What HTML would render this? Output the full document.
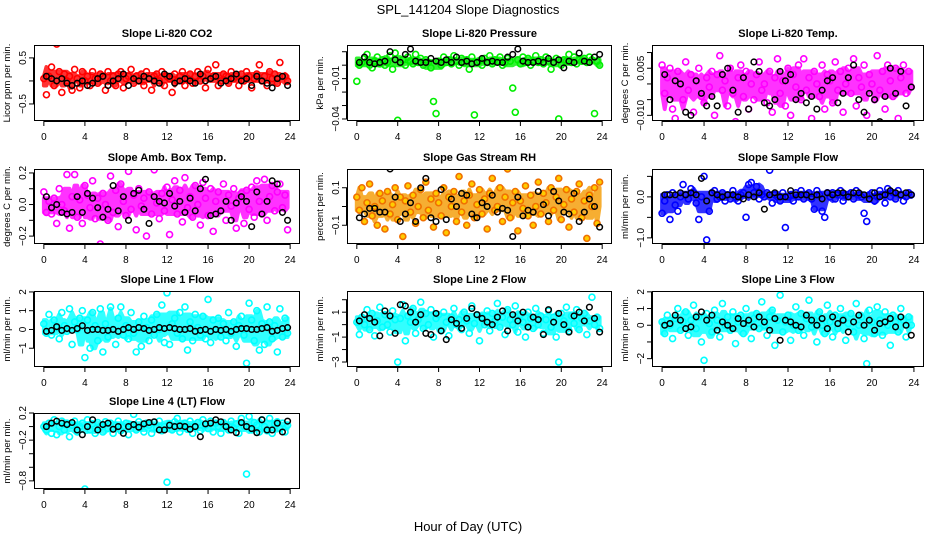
<!DOCTYPE html>
<html><head><meta charset="utf-8"><style>
html,body{margin:0;padding:0;background:#fff;}
svg{display:block;font-family:"Liberation Sans",Arial,sans-serif;}
</style></head><body>
<svg id="chart" width="936" height="540" viewBox="0 0 936 540">
<text x="468" y="14" text-anchor="middle" font-size="13">SPL_141204  Slope Diagnostics</text>
<text x="468" y="531" text-anchor="middle" font-size="13">Hour of Day (UTC)</text>
</svg>
<script>
const xTicks = [0,4,8,12,16,20,24];
const co2Color = [0.05,-0.3,0.1,0.3,-0.1,0.8,0.2,-0.25,0.15,0.0,0.1,-0.2,0.25,0.05,-0.15,0.2,0.0,0.1,-0.1,0.2,0.05,-0.05,0.15,0.1,-0.2,0.2,0.0,0.1,-0.1,0.15,0.2,-0.15,0.05,0.1,0.25,-0.05,0.1,0.0,0.15,-0.1,0.2,0.05,-0.2,0.1,0.15,0.0,0.2,-0.1,0.1,0.05,-0.25,0.15,0.0,0.1,0.2,-0.1,0.05,0.15,-0.05,0.1,0.2,0.0,0.1,-0.15,0.25,0.05,0.1,0.35,-0.1,0.0,0.15,0.1,-0.05,0.2,0.05,0.1,-0.1,0.15,0.0,0.2,0.1,-0.15,0.05,0.15,0.35,0.0,0.1,-0.1,0.2,0.05,0.15,-0.05,0.4,-0.95,0.1,0.0];
const co2Black = [0.1,0.05,0.0,0.05,-0.05,-0.1,-0.05,0.0,-0.1,-0.05,0.05,0.1,-0.1,0.0,0.05,0.15,-0.1,0.05,0.0,0.1,0.05,0.0,-0.05,0.15,0.1,-0.05,0.0,0.05,0.0,-0.05,0.15,0.0,0.05,0.1,-0.05,0.0,0.05,0.15,0.0,0.05,-0.1,0.1,0.0,-0.05,-0.15,0.05,0.1,-0.1];
const presColor = [-0.012,0.0,0.002,0.005,0.008,0.0,-0.002,0.003,0.006,0.001,0.004,0.0,0.002,0.007,-0.003,0.009,-0.041,0.002,0.004,0.0,0.006,0.003,0.001,0.008,0.002,0.005,0.0,0.004,0.002,-0.002,-0.027,-0.036,0.003,0.0,0.006,0.002,0.004,0.001,0.007,0.003,0.0,0.005,0.002,0.004,-0.003,0.006,-0.037,0.002,0.003,0.0,0.005,0.002,0.007,0.001,0.004,0.003,0.006,0.0,0.002,0.005,0.003,-0.017,-0.035,0.004,0.001,0.006,0.002,0.005,0.0,0.003,0.007,0.002,0.004,0.001,0.006,0.003,-0.003,0.002,0.005,-0.04,0.0,0.004,0.003,0.008,0.002,0.006,0.001,0.004,0.003,0.005,0.002,0.006,0.004,-0.036,0.003,0.0];
const presBlack = [0.002,0.006,0.002,0.001,0.002,0.003,0.01,0.004,0.002,0.008,0.012,0.003,0.002,0.002,0.005,0.003,0.002,0.004,0.002,0.006,0.002,0.003,0.001,0.002,0.005,0.002,0.003,0.002,0.002,0.006,0.008,0.012,0.003,0.002,0.002,0.003,0.002,0.005,0.002,0.004,-0.002,0.003,0.002,0.009,0.003,0.002,0.006,0.008];
const tempColor = [0.006,-0.003,0.002,0.005,-0.008,-0.011,0.004,0.0,-0.005,0.007,-0.002,0.003,-0.009,0.001,0.005,-0.004,-0.006,0.002,-0.001,0.004,-0.010,0.003,0.009,-0.002,0.001,-0.007,0.005,-0.003,-0.012,0.002,0.006,-0.004,0.004,-0.008,0.0,-0.005,0.003,0.007,-0.002,0.0,-0.006,0.004,-0.009,0.002,0.008,-0.003,0.001,-0.007,0.005,-0.010,0.003,-0.001,0.006,-0.005,0.008,-0.002,0.002,-0.011,0.004,0.0,-0.004,0.006,-0.008,0.003,0.001,-0.006,0.007,-0.002,0.004,-0.009,0.0,0.005,-0.003,0.008,-0.007,0.002,-0.001,0.006,-0.010,0.003,0.0,-0.005,0.009,-0.002,0.004,-0.008,0.006,0.001,-0.004,0.005,-0.011,0.002,0.006,-0.003,0.004,-0.001];
const tempBlack = [0.003,-0.005,0.001,0.0,-0.009,-0.01,0.001,-0.003,-0.007,-0.004,-0.007,0.003,0.005,-0.002,-0.009,0.002,-0.008,0.007,0.004,-0.006,-0.007,-0.005,0.004,0.001,0.003,-0.005,-0.003,-0.006,-0.004,-0.008,-0.002,0.001,0.002,-0.006,-0.003,0.002,0.006,-0.005,-0.009,-0.003,-0.005,-0.012,-0.004,0.005,-0.003,0.004,-0.007,-0.001];
const ambColor = [0.08,-0.05,0.02,-0.06,0.04,-0.12,0.1,0.0,-0.04,0.19,-0.15,0.05,0.19,-0.08,0.03,-0.12,0.12,0.06,-0.02,0.15,-0.09,0.04,-0.25,0.07,0.0,-0.1,0.18,-0.05,0.09,-0.14,0.13,0.02,-0.07,0.21,-0.03,0.06,-0.16,0.1,-0.01,0.04,-0.2,0.08,-0.06,0.22,0.01,-0.09,0.07,-0.04,0.11,-0.19,0.03,0.15,-0.06,0.09,-0.11,0.17,-0.02,0.05,-0.08,0.12,0.0,-0.13,0.14,0.04,-0.07,0.1,-0.17,0.02,0.08,-0.04,0.13,-0.1,0.06,-0.01,0.1,-0.15,0.04,0.07,-0.12,0.09,-0.03,0.11,-0.08,0.15,0.02,-0.06,0.16,-0.1,0.05,0.12,-0.04,0.08,0.13,-0.02,0.06,-0.16];
const ambBlack = [0.05,-0.02,0.0,-0.05,-0.06,-0.05,0.05,-0.05,0.07,0.04,-0.02,-0.08,-0.03,0.12,-0.04,0.05,-0.1,0.07,0.09,-0.03,-0.12,0.05,0.02,0.01,0.07,-0.01,0.02,-0.05,0.04,-0.04,0.1,0.16,-0.07,-0.06,-0.04,0.02,-0.1,0.01,0.05,0.02,-0.14,0.08,-0.06,0.02,0.15,0.13,-0.05,-0.1];
const rhColor = [0.05,-0.02,0.1,-0.08,0.02,0.12,-0.05,0.0,-0.1,0.07,0.03,-0.12,0.08,-0.04,0.01,0.1,-0.07,0.05,-0.16,0.03,0.11,-0.03,0.06,-0.09,0.0,0.09,-0.06,0.13,-0.02,0.04,-0.11,0.07,0.02,-0.05,0.1,-0.14,0.05,0.0,0.08,-0.08,0.16,-0.03,0.03,-0.1,0.06,0.12,-0.06,0.01,0.09,-0.04,0.04,-0.12,0.07,0.15,-0.02,0.0,0.1,-0.08,0.05,0.2,-0.06,0.02,0.08,-0.13,0.03,-0.01,0.11,-0.05,0.06,-0.1,0.0,0.13,-0.04,0.07,0.02,-0.08,0.1,-0.02,0.05,0.15,-0.07,0.01,0.09,-0.11,0.04,-0.03,0.08,0.12,-0.06,0.03,-0.17,0.06,0.0,0.1,-0.09,0.13];
const rhBlack = [-0.06,-0.04,-0.01,-0.01,-0.03,-0.03,0.2,0.05,-0.08,-0.04,0.02,-0.08,0.1,0.15,-0.06,-0.08,0.09,-0.07,0.04,0.0,0.07,0.06,-0.04,-0.06,0.02,0.0,0.06,-0.03,-0.01,-0.02,-0.16,0.05,-0.05,-0.02,-0.03,0.08,0.01,-0.05,0.08,0.03,-0.03,-0.04,0.07,-0.08,-0.03,0.04,0.0,-0.11];
const flowColor = [-0.4,-0.1,0.05,-0.55,0.1,-0.2,-0.35,0.0,0.3,0.05,-0.05,0.2,0.1,-0.15,-0.55,0.0,0.5,-1.05,-0.35,0.1,0.15,-0.05,0.0,0.1,-0.1,0.05,-0.05,0.15,0.0,-0.1,0.05,0.1,-0.5,0.3,0.35,0.1,0.25,-0.05,0.05,0.0,0.1,0.65,-0.15,0.05,0.0,-0.1,0.1,-0.75,0.0,0.05,-0.1,0.1,0.0,0.15,-0.05,0.05,0.1,-0.05,-0.3,0.15,0.05,-0.35,-0.5,0.1,0.0,0.1,-0.05,0.05,0.15,-0.1,0.05,0.0,0.1,-0.05,0.15,0.05,0.0,-0.4,-0.6,0.05,0.1,-0.1,0.0,0.15,0.05,-0.15,0.2,0.0,0.1,-0.05,0.15,0.05,-0.1,0.0,0.1,0.05];
const flowBlack = [0.05,0.05,0.05,0.1,0.05,0.1,0.05,0.45,-0.1,0.1,0.05,0.0,0.05,0.05,0.0,-0.05,0.05,0.0,0.1,-0.3,0.05,0.1,0.0,0.0,0.15,0.05,0.05,0.05,0.0,0.05,-0.05,0.1,0.05,0.1,0.1,0.0,0.1,0.1,0.05,-0.05,0.1,0.0,0.05,0.15,0.1,0.05,0.1,0.05];
const line1Color = [0.3,-0.2,0.8,-0.3,0.5,0.1,-0.5,0.9,0.2,-0.1,1.1,-0.8,0.4,0.0,0.6,1.0,-1.5,0.5,-1.0,0.9,0.2,-0.6,1.1,-1.2,0.3,-0.4,1.2,0.0,-0.8,0.6,1.2,-0.3,0.2,-0.5,0.9,-0.2,-1.2,0.4,-0.9,0.7,0.1,-0.6,0.5,-0.3,0.8,0.0,1.3,-0.7,1.95,-0.8,0.3,0.6,-0.2,0.9,-0.5,1.2,-1.1,0.4,-0.6,0.8,0.1,-0.3,0.7,-0.5,1.6,-0.7,0.5,0.0,0.6,-0.4,0.3,-0.6,0.9,-0.2,0.4,-0.9,0.2,0.7,-0.3,-1.8,1.4,0.5,-0.6,1.0,-1.1,0.3,-0.8,1.2,0.4,-0.5,0.2,-1.2,1.1,-0.4,0.6,-0.2];
const line1Black = [-0.1,-0.05,0.15,-0.05,0.05,-0.05,0.05,0.2,-0.05,0.0,0.0,-0.05,-0.05,0.0,-0.1,0.0,0.1,0.0,0.1,0.05,-0.05,0.0,0.1,0.05,0.1,0.05,0.0,0.0,0.05,-0.1,-0.05,0.0,-0.1,0.0,-0.05,0.0,-0.1,0.0,0.05,0.05,0.0,0.0,0.05,0.1,-0.1,-0.05,0.05,0.1];
const line2Color = [0.2,-0.8,0.6,0.0,1.2,-0.4,0.9,-0.9,0.3,1.4,-0.2,0.8,0.0,-0.6,1.1,0.4,-3.0,0.5,1.6,-1.3,0.7,0.2,1.3,-0.7,0.4,1.8,-0.3,0.9,0.0,1.2,-1.0,0.5,0.8,-0.5,1.0,0.2,-0.9,0.6,1.3,0.0,0.4,-0.4,1.0,0.3,-0.7,1.5,0.1,0.8,-1.3,0.6,0.0,1.1,-0.5,0.9,0.3,1.7,-0.2,0.6,-0.8,1.2,0.4,0.0,1.5,-0.6,0.8,0.2,-1.0,1.0,0.5,-0.3,1.3,0.0,0.7,-0.7,0.4,1.1,-0.2,0.6,-1.0,-3.0,0.9,0.3,1.4,-0.5,0.7,0.1,1.2,-0.4,0.5,0.9,-0.8,0.3,2.2,0.0,0.6,-0.3];
const line2Black = [0.3,0.8,0.5,0.2,-0.9,1.1,0.7,-0.7,1.6,1.5,1.0,0.2,0.8,-0.7,-0.8,0.9,-0.5,-1.2,0.4,0.1,-0.3,0.5,1.3,0.8,0.5,0.2,0.0,0.6,1.1,-0.5,0.8,0.3,1.0,-0.2,0.6,0.4,-0.8,1.2,0.2,0.9,0.0,-0.6,0.7,1.0,0.3,1.4,0.5,-0.6];
const line3Color = [0.2,-0.5,0.6,0.0,-0.8,0.4,1.0,-0.3,0.2,0.8,-0.6,0.3,1.2,-0.2,0.5,-1.0,-2.1,0.7,0.1,-0.4,0.9,0.3,-0.7,1.3,0.0,0.5,-0.3,0.8,-1.1,0.2,0.6,-0.5,1.0,0.1,-0.8,0.4,0.7,-0.2,1.4,0.0,-0.6,0.5,0.9,-1.2,0.3,1.8,-0.4,0.2,0.6,-0.9,0.0,1.1,-0.3,0.7,-0.6,0.4,1.5,-0.1,0.3,-1.0,0.8,0.0,-0.5,1.2,0.2,-0.7,0.6,-0.2,1.0,0.4,-0.9,0.1,0.7,-0.4,1.3,0.0,0.5,-0.8,-2.3,0.9,0.2,-0.5,1.1,0.3,-0.6,0.8,0.0,-1.2,0.6,0.2,-0.4,1.0,0.3,-0.7,0.5,0.0];
const line3Black = [0.0,0.1,0.6,0.3,-0.2,-0.1,0.5,0.8,0.3,0.6,-0.3,0.2,0.0,-0.2,0.4,0.1,0.3,-0.1,0.5,0.2,-0.3,0.4,-0.9,0.3,0.2,0.0,-0.1,0.6,0.3,0.0,0.4,-0.2,0.5,0.1,0.3,-0.4,0.2,0.6,0.0,0.3,-0.3,0.1,0.2,0.4,-0.1,0.5,0.0,-0.6];
const line4Color = [0.0,-0.05,0.05,-0.1,0.1,-0.12,0.0,0.08,-0.05,0.05,-0.15,0.02,0.08,-0.08,0.0,0.05,-0.92,0.1,-0.05,0.04,-0.1,0.06,0.0,-0.08,0.07,-0.03,0.05,-0.1,0.02,0.08,-0.06,0.0,0.05,-0.12,0.03,0.18,-0.05,0.07,0.0,-0.08,0.05,0.02,-0.1,0.06,-0.02,0.08,-0.06,0.0,-0.82,0.04,-0.05,0.07,0.12,-0.08,0.02,0.05,-0.04,0.08,-0.1,0.0,0.06,-0.06,0.1,0.02,-0.03,0.08,-0.08,0.05,0.0,-0.1,0.06,0.02,-0.05,0.08,-0.02,0.04,-0.1,0.12,0.0,-0.7,0.15,-0.05,0.06,0.02,-0.08,0.1,0.0,-0.06,0.12,-0.1,0.04,0.07,-0.03,0.05,-0.08,0.02];
const line4Black = [0.0,0.05,0.08,0.05,0.03,0.06,-0.05,-0.12,0.0,0.1,-0.05,0.03,0.05,-0.04,0.0,-0.1,0.0,0.03,-0.01,0.04,0.06,0.07,-0.05,-0.05,0.02,0.0,0.01,0.0,-0.04,0.0,-0.15,0.04,0.05,0.1,0.07,0.0,-0.05,-0.09,0.06,0.0,-0.03,-0.09,0.1,-0.05,-0.05,0.05,-0.08,0.08];

const NS = "http://www.w3.org/2000/svg";
const svg = document.getElementById('chart');
const cols = [[34,300],[347,612],[652,924]];
const rows = [[45,121],[169,244],[291,367],[413,489]];
const panels = [
 {c:0,r:0,name:'co2',title:'Slope Li-820 CO2',yl:'Licor ppm per min.',dom:[-0.87,0.78],ticks:[-0.5,0,0.5],labs:{'-0.5':'\u22120.5','0.5':'0.5'},col:'#ff0000',fill:'none',cv:co2Color,bv:co2Black},
 {c:1,r:0,name:'pressure',title:'Slope Li-820 Pressure',yl:'kPa per min.',dom:[-0.0415,0.015],ticks:[0.01,0,-0.01,-0.02,-0.03,-0.04],labs:{'-0.01':'\u22120.01','-0.04':'\u22120.04'},col:'#00ee00',fill:'none',cv:presColor,bv:presBlack},
 {c:2,r:0,name:'temp',title:'Slope Li-820 Temp.',yl:'degrees C per min.',dom:[-0.0118,0.0124],ticks:[-0.01,-0.005,0,0.005,0.01],labs:{'-0.01':'\u22120.010','0.005':'0.005'},col:'#ff00ff',fill:'none',cv:tempColor,bv:tempBlack},
 {c:0,r:1,name:'amb-box-temp',title:'Slope Amb. Box Temp.',yl:'degrees C per min.',dom:[-0.25,0.225],ticks:[-0.2,-0.1,0,0.1,0.2],labs:{'-0.2':'\u22120.2','0':'0.0','0.2':'0.2'},col:'#ff00ff',fill:'none',cv:ambColor,bv:ambBlack},
 {c:1,r:1,name:'gas-stream-rh',title:'Slope Gas Stream RH',yl:'percent per min.',dom:[-0.2,0.2],ticks:[-0.1,0,0.1],labs:{'-0.1':'\u22120.1','0.1':'0.1'},col:'#f07000',fill:'#ffcc00',cv:rhColor,bv:rhBlack},
 {c:2,r:1,name:'sample-flow',title:'Slope Sample Flow',yl:'ml/min per min.',dom:[-1.15,0.68],ticks:[-1,-0.5,0,0.5],labs:{'-1':'\u22121.0','0':'0.0'},col:'#0000ff',fill:'none',cv:flowColor,bv:flowBlack},
 {c:0,r:2,name:'line1-flow',title:'Slope Line 1 Flow',yl:'ml/min per min.',dom:[-2.0,2.05],ticks:[-1,0,1,2],labs:{'-1':'\u22121','0':'0','1':'1','2':'2'},col:'#00ffff',fill:'none',cv:line1Color,bv:line1Black},
 {c:1,r:2,name:'line2-flow',title:'Slope Line 2 Flow',yl:'ml/min per min.',dom:[-3.4,2.7],ticks:[-3,-2,-1,0,1,2],labs:{'-3':'\u22123','-1':'\u22121','1':'1'},col:'#00ffff',fill:'none',cv:line2Color,bv:line2Black},
 {c:2,r:2,name:'line3-flow',title:'Slope Line 3 Flow',yl:'ml/min per min.',dom:[-2.5,2.05],ticks:[-2,-1,0,1,2],labs:{'-2':'\u22122','0':'0','1':'1','2':'2'},col:'#00ffff',fill:'none',cv:line3Color,bv:line3Black},
 {c:0,r:3,name:'line4-flow',title:'Slope Line 4 (LT) Flow',yl:'ml/min per min.',dom:[-0.92,0.2],ticks:[0.2,0,-0.2,-0.4,-0.6,-0.8],labs:{'0.2':'0.2','-0.2':'\u22120.2','-0.8':'\u22120.8'},col:'#00ffff',fill:'none',cv:line4Color,bv:line4Black}
];
function mk(tag, attrs, parent){const e=document.createElementNS(NS,tag);for(const k in attrs)e.setAttribute(k,attrs[k]);(parent||svg).appendChild(e);return e;}

panels.forEach(p=>{
  const [x0,x1]=cols[p.c],[y0,y1]=rows[p.r];
  const xs=h=>x0+(h+0.96)/(25.92)*(x1-x0);
  const ys=v=>y1-(v-p.dom[0])/(p.dom[1]-p.dom[0])*(y1-y0);
  const g=mk('g',{});
  
  
  const clip=mk('clipPath',{id:'clip-'+p.name},g);
  mk('rect',{x:x0,y:y0,width:x1-x0,height:y1-y0},clip);
  const pts=mk('g',{'clip-path':'url(#clip-'+p.name+')'},g);
  
  
  // dense core band from rolling inter-quantile spread of the coloured series
  const up=[],lo=[];
  p.cv.forEach((v,i)=>{
    const w=p.cv.slice(Math.max(0,i-4),i+5).slice().sort((a,b)=>a-b);
    const k=Math.floor(w.length*0.3), m=Math.ceil(w.length*0.7)-1;
    up.push([xs(i*0.25),ys(w[m])]);lo.push([xs(i*0.25),ys(w[k])]);
  });
  const poly=up.concat(lo.reverse()).map(q=>q[0].toFixed(1)+','+q[1].toFixed(1)).join(' ');
  const bc=p.fill==='none'?p.col:'#f59a00';
  const band=mk('polygon',{points:poly,fill:bc,stroke:bc,'stroke-width':4,'stroke-linejoin':'round',opacity:0.8},pts);
  
  
  p.cv.forEach((v,i)=>{
    const c=mk('circle',{cx:xs(i*0.25),cy:ys(v),r:3,fill:p.fill,stroke:p.col,'stroke-width':1.6},pts);
    
    
  });
  p.bv.forEach((v,i)=>{
    const c=mk('circle',{cx:xs(i*0.5+0.25),cy:ys(v),r:2.8,fill:'none',stroke:'#000','stroke-width':1.5},pts);
    
    
  });
  const box=mk('rect',{x:x0+0.5,y:y0+0.5,width:x1-x0-1,height:y1-y0-1,fill:'none',stroke:'#000','stroke-width':1},g);
  
  
  const t=mk('text',{x:(x0+x1)/2,y:y0-8,'text-anchor':'middle','font-size':11,'font-weight':'bold'},g);
  t.textContent=p.title;
  
  
  const yl=mk('text',{transform:`translate(${x0-24},${(y0+y1)/2}) rotate(-90)`,'text-anchor':'middle','font-size':9.5},g);
  yl.textContent=p.yl;
  
  
  mk('line',{x1:xs(0),x2:xs(24),y1:y1+0.5,y2:y1+0.5,stroke:'#000'},g);
  xTicks.forEach(h=>{
    mk('line',{x1:xs(h),x2:xs(h),y1:y1,y2:y1+5,stroke:'#000'},g);
    const tl=mk('text',{x:xs(h),y:y1+19,'text-anchor':'middle','font-size':10},g);
    tl.textContent=String(h);
    
    
  });
  const tv=p.ticks.map(ys);
  mk('line',{x1:x0-0.5,x2:x0-0.5,y1:Math.min(...tv),y2:Math.max(...tv),stroke:'#000'},g);
  p.ticks.forEach(v=>{
    mk('line',{x1:x0-5,x2:x0,y1:ys(v),y2:ys(v),stroke:'#000'},g);
    const key=String(v);
    if(p.labs[key]!==undefined){
      const tl=mk('text',{transform:`translate(${x0-8},${ys(v)}) rotate(-90)`,'text-anchor':'middle','font-size':10},g);
      tl.textContent=p.labs[key];
      
      
    }
  });
});
</script>
</body></html>
